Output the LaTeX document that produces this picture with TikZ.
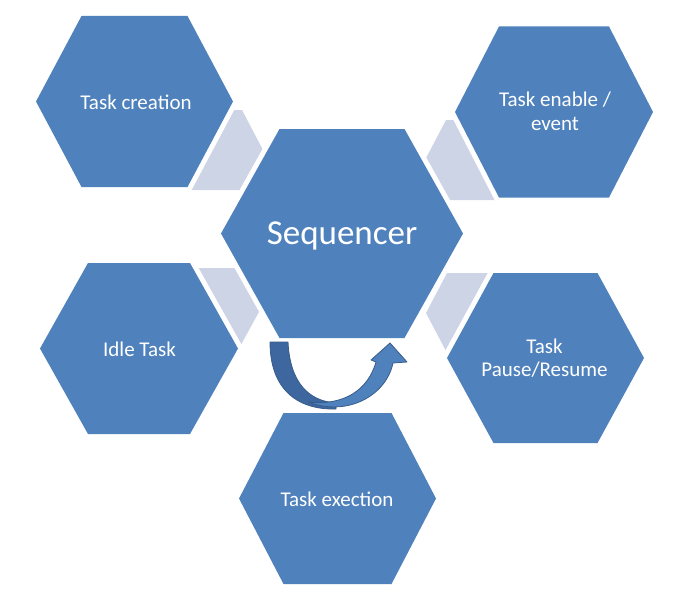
\documentclass[tikz,border=0pt]{standalone}
\usepackage{fontspec}
\setmainfont{Carlito}
\definecolor{hexblue}{HTML}{4F81BD}
\definecolor{linkgray}{HTML}{CDD4E5}
\definecolor{arrowdark}{HTML}{3D679E}
\definecolor{arrowedge}{HTML}{385D8A}
\newcommand{\HexPath}[5]{(#1-#3,#2) -- (#1-#4,#2-#5) -- (#1+#4,#2-#5) -- (#1+#3,#2) -- (#1+#4,#2+#5) -- (#1-#4,#2+#5) -- cycle}
\tikzset{
  linkhex/.style={fill=linkgray, draw=none},
  gapline/.style={draw=white, line width=10pt, line join=round},
  mainhex/.style={fill=hexblue, draw=none},
  lbl/.style={text=white, font=\fontsize{21}{23.4}\selectfont, align=center, anchor=base, inner sep=0pt},
  biglbl/.style={text=white, font=\fontsize{35}{40}\selectfont, anchor=base, inner sep=0pt},
  arrowband/.style={draw=arrowedge, line width=0.8pt, line join=round}
}
\begin{document}
\begin{tikzpicture}[x=1pt,y=-1pt]
\useasboundingbox (0,0) rectangle (700,599);
% light connector hexagons
\path[linkhex] \HexPath{203}{150}{60}{39}{40};
\path[linkhex] \HexPath{485}{160}{60}{39}{40};
\path[linkhex] \HexPath{200}{310}{60}{37}{42};
\path[linkhex] \HexPath{486}{313}{60}{39}{40};
% white gaps around main hexagons
\path[gapline] \HexPath{134.5}{101.5}{98.5}{53}{85.5};
\path[gapline] \HexPath{554}{112}{99}{55}{85.5};
\path[gapline] \HexPath{342}{233.5}{121}{62.5}{104.5};
\path[gapline] \HexPath{139}{348.5}{99}{51}{85.5};
\path[gapline] \HexPath{545.5}{358}{98.5}{52}{85};
\path[gapline] \HexPath{337.5}{498.5}{98.5}{54}{85.5};
% main hexagons
\path[mainhex] \HexPath{134.5}{101.5}{98.5}{53}{85.5};
\path[mainhex] \HexPath{554}{112}{99}{55}{85.5};
\path[mainhex] \HexPath{342}{233.5}{121}{62.5}{104.5};
\path[mainhex] \HexPath{139}{348.5}{99}{51}{85.5};
\path[mainhex] \HexPath{545.5}{358}{98.5}{52}{85};
\path[mainhex] \HexPath{337.5}{498.5}{98.5}{54}{85.5};
% labels (base = baseline of last line)
\node[lbl] (creation) at (136,110) {Task creation};
\node[lbl] (enable) at (555,130) {Task enable /\\event};
\node[biglbl] (seq) at (342,244) {Sequencer};
\node[lbl] (idle) at (139.5,356) {Idle Task};
\node[lbl] (pause) at (544.5,376.7) {Task\\Pause/Resume};
\node[lbl] (exec) at (337,506) {Task exection};
% curved arrow
\path[arrowband, fill=arrowdark] (270,342) -- (288,342) .. controls (290,382) and (308,401) .. (336,403) -- (336,409) .. controls (296,410) and (270,388) .. (270,342) -- cycle;
\path[arrowband, fill=hexblue] (308,402) .. controls (347,417) and (386,396) .. (393,363) -- (407,362) -- (390,343) -- (371,360) -- (376,362) .. controls (368,390) and (344,406) .. (308,402) -- cycle;
\end{tikzpicture}
\end{document}
